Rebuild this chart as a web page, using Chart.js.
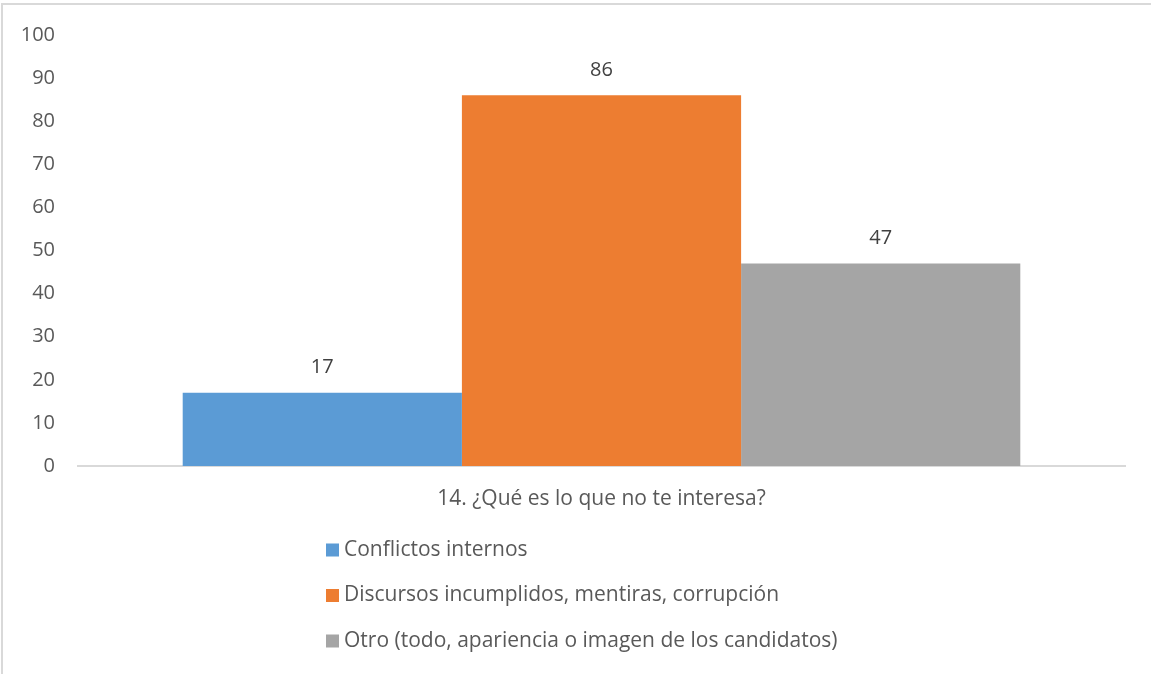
<!DOCTYPE html>
<html>
<head>
<meta charset="utf-8">
<script src="https://cdn.jsdelivr.net/npm/chart.js@4.4.0/dist/chart.umd.min.js"></script>
<style>
  html, body { margin: 0; padding: 0; background: #fff; }
  #wrap { position: relative; width: 1151px; height: 674px; }
  #frame { position: absolute; left: 1px; top: 3px; right: 0; bottom: 0;
           border-top: 2px solid #d9d9d9; border-left: 2px solid #d9d9d9; pointer-events: none; }
</style>
</head>
<body>
<div id="wrap">
  <canvas id="chart" width="1151" height="674"></canvas>
  <div id="frame"></div>
</div>
<script>
// data
const categories = ['14. ¿Qué es lo que no te interesa?'];
const seriesNames = [
  'Conflictos internos',
  'Discursos incumplidos, mentiras, corrupción',
  'Otro (todo, apariencia o imagen de los candidatos)'
];
const seriesValues = [[17], [86], [47]];
const seriesColors = ['#5b9bd5', '#ed7d31', '#a5a5a5'];
const yTicks = [0, 10, 20, 30, 40, 50, 60, 70, 80, 90, 100];

const FONT = "'Open Sans', 'Liberation Sans', sans-serif";

// value labels above each bar
const valueLabels = {
  id: 'valueLabels',
  afterDatasetsDraw(chart) {
    const ctx = chart.ctx;
    ctx.save();
    ctx.font = '20px ' + FONT;
    ctx.fillStyle = '#404040';
    ctx.textAlign = 'center';
    ctx.textBaseline = 'middle';
    chart.data.datasets.forEach((ds, i) => {
      chart.getDatasetMeta(i).data.forEach((bar, j) => {
        ctx.fillText(ds.data[j], bar.x, bar.y - 25);
      });
    });
    ctx.restore();
  }
};

// vertical legend below the axis, left aligned
const columnLegend = {
  id: 'columnLegend',
  afterDraw(chart) {
    const ctx = chart.ctx;
    const x0 = 326, y0 = 550, rowGap = 45.5, box = 13;
    ctx.save();
    ctx.font = '21px ' + FONT;
    ctx.textBaseline = 'middle';
    ctx.textAlign = 'left';
    chart.data.datasets.forEach((ds, i) => {
      const y = y0 + i * rowGap;
      ctx.fillStyle = ds.backgroundColor;
      ctx.fillRect(x0, y - box / 2, box, box);
      ctx.fillStyle = '#595959';
      ctx.fillText(ds.label, x0 + 18, y);
    });
    ctx.restore();
  }
};

new Chart(document.getElementById('chart'), {
  type: 'bar',
  data: {
    labels: categories,
    datasets: seriesNames.map((name, i) => ({
      label: name,
      data: seriesValues[i],
      backgroundColor: seriesColors[i],
      borderWidth: 0,
      categoryPercentage: 0.8,
      barPercentage: 1.0
    }))
  },
  options: {
    responsive: false,
    animation: false,
    layout: { padding: { left: 0, right: 26, top: 33, bottom: 148 } },
    plugins: {
      legend: { display: false },
      tooltip: { enabled: false }
    },
    scales: {
      x: {
        grid: { display: false, drawTicks: false },
        border: { display: true, color: '#d9d9d9', width: 2 },
        ticks: { color: '#595959', font: { family: FONT, size: 21 }, padding: 20 },
        afterFit: s => { s.height = 60; }
      },
      y: {
        min: 0,
        max: 100,
        afterBuildTicks: s => { s.ticks = yTicks.map(v => ({ value: v })); },
        grid: { display: false, drawTicks: false },
        border: { display: false },
        ticks: { color: '#595959', font: { family: FONT, size: 20 }, padding: 23 },
        afterFit: s => { s.width = 78; }
      }
    }
  },
  plugins: [valueLabels, columnLegend]
});
</script>
</body>
</html>
